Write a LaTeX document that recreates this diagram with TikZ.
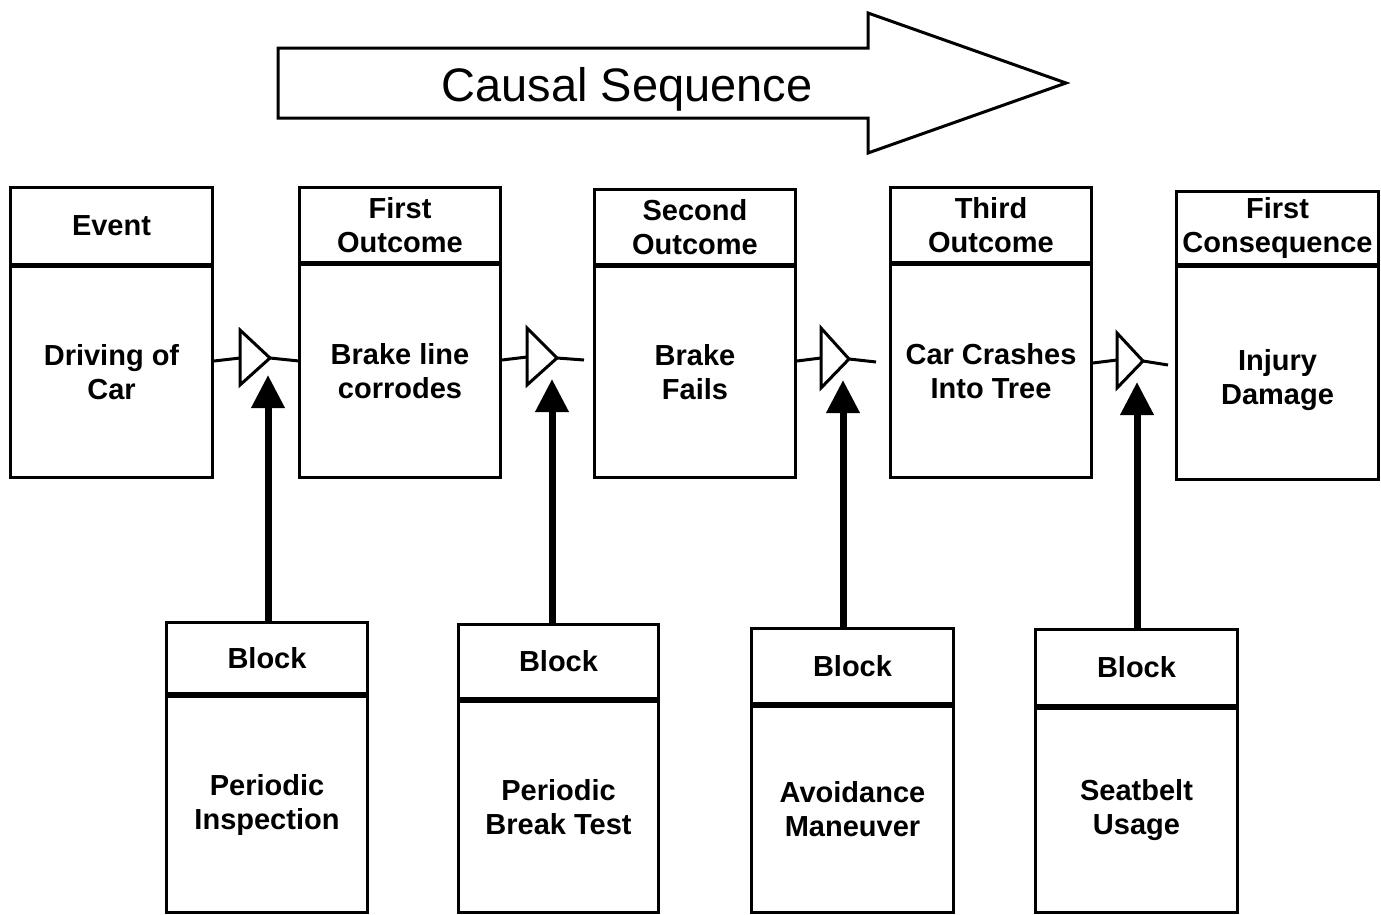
\documentclass[tikz,border=0pt]{standalone}
\usepackage{fontspec}
\setmainfont{Liberation Sans}
\usetikzlibrary{arrows.meta}
\tikzset{
  x=1pt, y=-1pt,
  boxpart/.style={draw, line width=3pt, anchor=north west, inner sep=0pt,
    align=center, font=\bfseries\fontsize{29}{34}\selectfont},
  gate/.style={draw, line width=3pt, line join=miter, fill=white},
  link/.style={line width=3pt},
  blockarrow/.style={line width=7pt, -{Triangle[length=33pt,width=32pt]}},
  bigarrow/.style={draw, line width=3pt, line join=miter},
}
\begin{document}
\begin{tikzpicture}
\useasboundingbox (0,0) rectangle (1381,914);

% Causal sequence arrow
\draw[bigarrow] (278,48) -- (868,48) -- (868,13) -- (1066,83) -- (868,153) -- (868,118) -- (278,118) -- cycle;
\node[font=\fontsize{47}{52}\selectfont] (cs) at (627,89) {Causal Sequence};

% Top boxes
\node[boxpart, minimum width=202, minimum height=77] (t1h) at (9,186) {Event};
\node[boxpart, minimum width=202, minimum height=211] (t1b) at (9,265) {Driving of\\Car};
\node[boxpart, minimum width=201, minimum height=75] (t2h) at (298,186) {First\\Outcome};
\node[boxpart, minimum width=201, minimum height=213] (t2b) at (298,263) {Brake line\\corrodes};
\node[boxpart, minimum width=201, minimum height=75] (t3h) at (593,188) {Second\\Outcome};
\node[boxpart, minimum width=201, minimum height=211] (t3b) at (593,265) {Brake\\Fails};
\node[boxpart, minimum width=201, minimum height=75] (t4h) at (889,186) {Third\\Outcome};
\node[boxpart, minimum width=201, minimum height=213] (t4b) at (889,263) {Car Crashes\\Into Tree};
\node[boxpart, minimum width=202, minimum height=73] (t5h) at (1175,190) {First\\Consequence};
\node[boxpart, minimum width=202, minimum height=213, text depth=0pt] (t5b) at (1175,265) {\raisebox{-4pt}{Injury}\\[-4pt]\raisebox{-8pt}{Damage}};

% Bottom boxes
\node[boxpart, minimum width=201, minimum height=71] (b1h) at (165,621) {Block};
\node[boxpart, minimum width=201, minimum height=216] (b1b) at (165,695) {Periodic\\Inspection};
\node[boxpart, minimum width=200, minimum height=74] (b2h) at (457,623) {Block};
\node[boxpart, minimum width=200, minimum height=211] (b2b) at (457,700) {Periodic\\Break Test};
\node[boxpart, minimum width=202, minimum height=75] (b3h) at (750,627) {Block};
\node[boxpart, minimum width=202, minimum height=206] (b3b) at (750,705) {Avoidance\\Maneuver};
\node[boxpart, minimum width=202, minimum height=76] (b4h) at (1034,628) {Block};
\node[boxpart, minimum width=202, minimum height=204] (b4b) at (1034,707) {Seatbelt\\Usage};

% Gates
\coordinate (g1in) at (240,358); \coordinate (g1out) at (270,358);
\coordinate (g2in) at (527,357); \coordinate (g2out) at (557,358);
\coordinate (g3in) at (821,358); \coordinate (g3out) at (849,359);
\coordinate (g4in) at (1117,360); \coordinate (g4out) at (1143,361);
\coordinate (e1) at (299,361); \coordinate (e2) at (584,360);
\coordinate (e3) at (876,362); \coordinate (e4) at (1168,365);

\draw[link] (t1b.east |- 0,361) -- (g1in);
\draw[link] (g1out) -- (e1);
\draw[link] (t2b.east |- 0,360) -- (g2in);
\draw[link] (g2out) -- (e2);
\draw[link] (t3b.east |- 0,361) -- (g3in);
\draw[link] (g3out) -- (e3);
\draw[link] (t4b.east |- 0,363) -- (g4in);
\draw[link] (g4out) -- (e4);

\draw[gate] (240,330) -- (240,385) -- (g1out) -- cycle;
\draw[gate] (527,328) -- (527,385) -- (g2out) -- cycle;
\draw[gate] (821,328) -- (821,388) -- (g3out) -- cycle;
\draw[gate] (1117,333) -- (1117,388) -- (g4out) -- cycle;

% Block arrows
\coordinate (a1) at (268,375);
\coordinate (a2) at (552,379);
\coordinate (a3) at (843,380);
\coordinate (a4) at (1137,382);
\draw[blockarrow] (a1 |- b1h.north) -- (a1);
\draw[blockarrow] (a2 |- b2h.north) -- (a2);
\draw[blockarrow] (a3 |- b3h.north) -- (a3);
\draw[blockarrow] (a4 |- b4h.north) -- (a4);
\end{tikzpicture}
\end{document}
